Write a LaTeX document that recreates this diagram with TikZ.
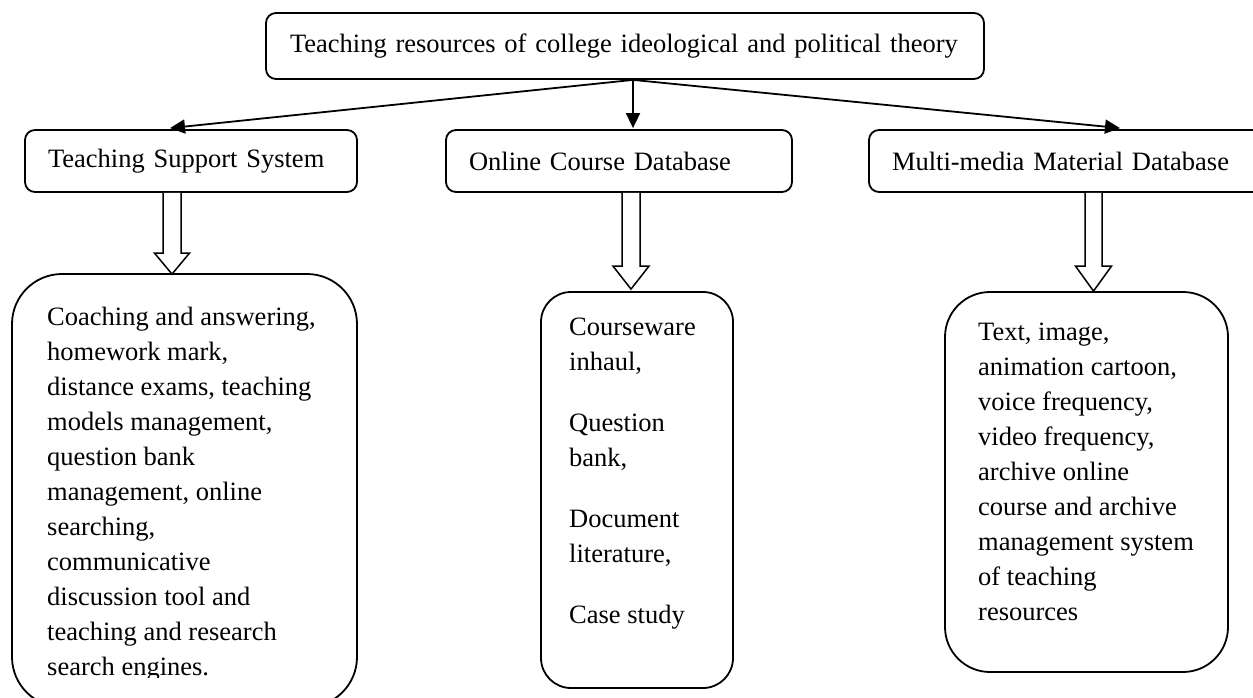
\documentclass[tikz,border=0pt]{standalone}
\usepackage{fontspec}
\setmainfont{Liberation Serif}
\usetikzlibrary{arrows.meta,calc}
\begin{document}
\begin{tikzpicture}[x=1pt,y=-1pt,
  every node/.style={font=\fontsize{26.5}{35}\selectfont},
  box/.style={draw,line width=1.8pt,rounded corners=10pt,align=left,inner xsep=23pt,inner ysep=0pt},
  bigbox/.style={draw,line width=1.8pt,inner sep=0pt},
  txt/.style={anchor=north west,align=left,inner sep=0pt},
  arr/.style={line width=1.8pt,-{Triangle[length=15pt,width=14pt]}},
  hollow/.style={draw,line width=1.5pt,fill=white,line join=miter}]
\useasboundingbox (0,0) rectangle (1253,698);
% top
\node[box,minimum width=718pt,minimum height=66pt,text width=670pt] (top) at (625,46) {Teaching resources of college ideological and political theory};
% level 2
\node[box,minimum width=332pt,minimum height=62pt,text width=286pt] (tss) at (191,161) {Teaching Support System};
\node[box,minimum width=346pt,minimum height=62pt,text width=300pt] (ocd) at (619,161) {Online Course Database};
\node[box,minimum width=396pt,minimum height=62pt,text width=350pt] (mmd) at (1067,161) {Multi-media Material Database};
% level 3 boxes
\node[bigbox,rounded corners=50pt,minimum width=345pt,minimum height=433pt] (d1) at (184.5,490.5) {};
\node[bigbox,rounded corners=30pt,minimum width=192pt,minimum height=396pt] (d2) at (637,490) {};
\node[bigbox,rounded corners=45pt,minimum width=283pt,minimum height=380pt] (d3) at (1086.5,482) {};
% texts
\begin{scope}
\clip (0,0) rectangle (1253,677);
\node[txt] (d1t) at (47,300.5) {\strut Coaching and answering,\\homework mark,\\distance exams, teaching\\models management,\\question bank\\management, online\\searching,\\communicative\\discussion tool and\\teaching and research\\search engines.};
\end{scope}
\node[txt] (d2t) at (569,310.5) {\strut Courseware\\inhaul,\\[26pt]Question\\bank,\\[26pt]Document\\literature,\\[26pt]Case study};
\node[txt] (d3t) at (978,315.5) {\strut Text, image,\\animation cartoon,\\voice frequency,\\video frequency,\\archive online\\course and archive\\management system\\of teaching\\resources};
% arrows from top
\coordinate (o) at ($(top.south)+(8,0)$);
\draw[arr] (o) -- ($(tss.north)+(-21,-1)$);
\draw[arr] (o) -- ($(ocd.north)+(14,-1)$);
\draw[arr] (o) -- ($(mmd.north)+(53,-1)$);
% hollow arrows
\coordinate (t1) at ($(d1.north)+(-12.5,1)$);
\coordinate (t2) at ($(d2.north)+(-6,-2)$);
\coordinate (t3) at ($(d3.north)+(7,0)$);
\draw[hollow] ($(t1 |- tss.south)+(-9,0)$) -- ($(t1)+(-9,-21)$) -- ($(t1)+(-17.5,-21)$) -- (t1) -- ($(t1)+(17.5,-21)$) -- ($(t1)+(9,-21)$) -- ($(t1 |- tss.south)+(9,0)$);
\draw[hollow] ($(t2 |- ocd.south)+(-9,0)$) -- ($(t2)+(-9,-23)$) -- ($(t2)+(-18,-23)$) -- (t2) -- ($(t2)+(18,-23)$) -- ($(t2)+(9,-23)$) -- ($(t2 |- ocd.south)+(9,0)$);
\draw[hollow] ($(t3 |- mmd.south)+(-8.5,0)$) -- ($(t3)+(-8.5,-25)$) -- ($(t3)+(-18,-25)$) -- (t3) -- ($(t3)+(18,-25)$) -- ($(t3)+(8.5,-25)$) -- ($(t3 |- mmd.south)+(8.5,0)$);
\end{tikzpicture}
\end{document}
